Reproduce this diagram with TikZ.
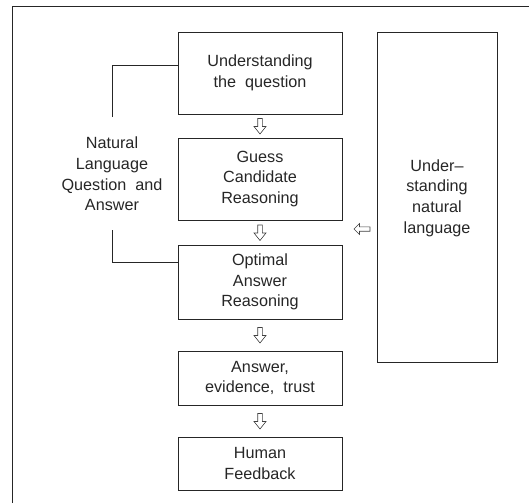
\documentclass[tikz,border=0pt]{standalone}
\usepackage{fontspec}
\setmainfont{Liberation Sans}
\usetikzlibrary{calc}
\begin{document}
\begin{tikzpicture}[x=1pt,y=-1pt,
  box/.style={draw=black!85,line width=0.9pt,inner sep=0pt,align=center},
  txt/.style={font=\fontsize{16.2}{20.6}\selectfont,text=black!85},
  hollow/.style={draw=black!75,line width=0.6pt,fill=white,line join=miter}]
\useasboundingbox (0,0) rectangle (529,503);
\draw[black!85,line width=1pt] (12,503) -- (12,7) -- (529,7);
% boxes
\node[box,txt,minimum width=164pt,minimum height=82pt] (b1) at (260,73) {Understanding\\the~~question};
\node[box,txt,minimum width=164pt,minimum height=82pt] (b2) at (260,179) {Guess\\Candidate\\Reasoning};
\node[box,txt,minimum width=164pt,minimum height=74pt] (b3) at (260,282) {Optimal\\Answer\\Reasoning};
\node[box,txt,minimum width=164pt,minimum height=54pt] (b4) at (260,378) {Answer,\\evidence,~~trust};
\node[box,txt,minimum width=164pt,minimum height=53pt] (b5) at (260,463.5) {Human\\Feedback};
\node[box,minimum width=120pt,minimum height=330pt] (r) at (437,197) {};
\node[txt,align=center] (rt) at (437,198) {Under–\\standing\\natural\\language};
\node[txt,align=center] (nl) at (112,174) {Natural\\Language\\Question~~and\\Answer};
% bracket
\coordinate (t1) at (112,117);
\coordinate (t2) at (112,230);
\draw[black!85,line width=0.9pt] (t1) |- (b1.west|-0,65);
\draw[black!85,line width=0.9pt] (t2) |- (b3.west|-0,262);
% down arrows
\foreach \a/\b in {b1/b2,b2/b3,b3/b4,b4/b5}{
  \path (\a.south) -- (\b.north) coordinate[pos=0.5] (m);
  \draw[hollow] ($(m)+(-2.3,-7.5)$) -- ++(4.6,0) -- ++(0,8) -- ++(3.7,0) -- ++(-6,7.5) -- ++(-6,-7.5) -- ++(3.7,0) -- cycle;
}
% left arrow
\coordinate (la) at (362,229);
\draw[hollow] ($(la)+(8,-2.2)$) -- ++(-10.5,0) -- ++(0,-3.3) -- ++(-5.5,5.5) -- ++(5.5,5.5) -- ++(0,-3.3) -- ++(10.5,0) -- cycle;
\end{tikzpicture}
\end{document}
